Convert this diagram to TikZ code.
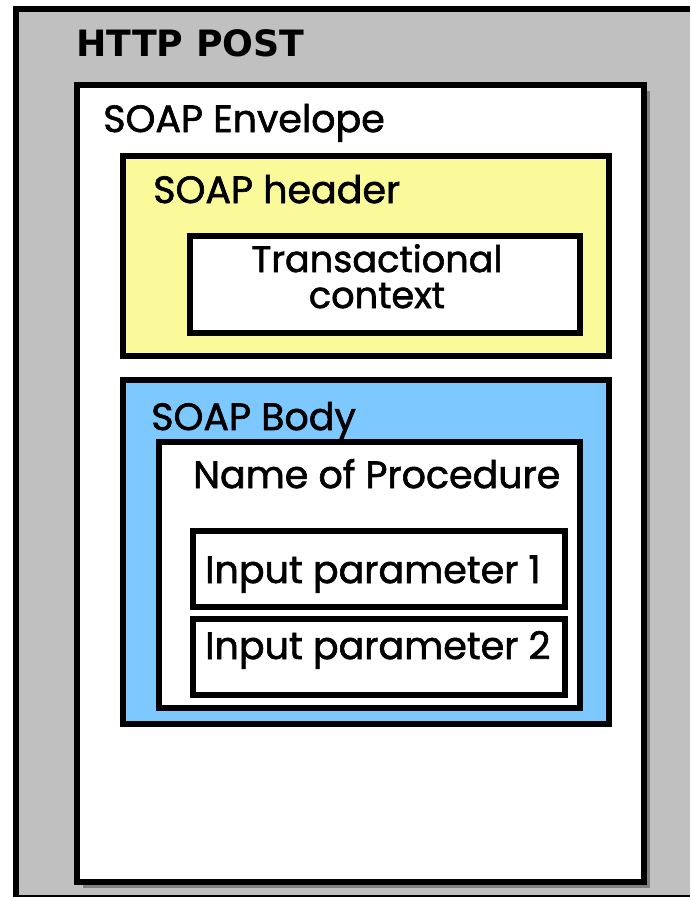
\documentclass[tikz,border=0pt]{standalone}
\usepackage{fontspec}
\setmainfont{Poppins}[UprightFeatures={FakeBold=1.6}]
\newfontfamily\postfont{DejaVu Sans}
\usepackage{tikz}
\usepackage{xcolor}
\usetikzlibrary{positioning, shadows}
\definecolor{soapgray}{RGB}{192, 192, 192}
\definecolor{soapyellow}{RGB}{250, 250, 155}
\definecolor{soapblue}{RGB}{125, 201, 255}
\definecolor{soapshadow}{RGB}{128, 128, 128}
\newdimen\px
\px=0.75pt
\tikzset{
    layer/.style={rectangle, draw=black, line width=6\px, inner sep=0pt},
    whitelayer/.style={layer, fill=white},
    label/.style={anchor=base west, inner sep=0pt, font=\fontsize{28.5pt}{25.5pt}\selectfont},
    postlabel/.style={label, font=\postfont\bfseries\fontsize{27.2pt}{32pt}\selectfont}
}

\begin{document}
\begin{tikzpicture}[x=1\px, y=-1\px]
    \useasboundingbox (0,0) rectangle (690,897);
    \fill[white] (0,0) rectangle (690,897);
    % HTTP POST frame, cut off at the right and bottom
    \fill[soapgray] (13,6) rectangle (690,897);
    \draw[line width=6\px] (16,897) -- (16,9) -- (690,9);
    \draw[line width=2\px] (13,896) -- (690,896);
    \node[postlabel] (postlbl) at (76,56) {HTTP POST};

    % SOAP envelope with its shadow
    \node[whitelayer, drop shadow={shadow xshift=6\px, shadow yshift=-6\px, fill=soapshadow, opacity=1},
          minimum width=567\px, minimum height=797\px] (envelope) at (360.5,483.5) {};
    \node[label] (envlbl) at (103,132) {SOAP Envelope};

    % header part
    \node[layer, fill=soapyellow, minimum width=486\px, minimum height=200\px] (header) at (366,256) {};
    \node[label] (headlbl) at (153,203) {SOAP header};
    \node[whitelayer, minimum width=390\px, minimum height=97\px] (context) at (385,284.5) {};
    \node[label, anchor=base, align=center, font=\fontsize{27.5pt}{27pt}\selectfont] (ctxlbl) at (377,308) {Transactional\\context};

    % body part
    \node[layer, fill=soapblue, minimum width=486\px, minimum height=344\px] (body) at (366,552) {};
    \node[label] (bodylbl) at (151,430) {SOAP Body};
    \node[whitelayer, minimum width=421\px, minimum height=266\px] (proc) at (369.5,575) {};
    \node[label] (proclbl) at (193,488) {Name of Procedure};
    \node[whitelayer, minimum width=372\px, minimum height=76\px] (param1) at (379,569) {};
    \node[whitelayer, minimum width=372\px, minimum height=76\px] (param2) at (379,657) {};
    \node[label] (p1lbl) at (205,583) {Input parameter 1};
    \node[label] (p2lbl) at (205,659) {Input parameter 2};
\end{tikzpicture}
\end{document}
